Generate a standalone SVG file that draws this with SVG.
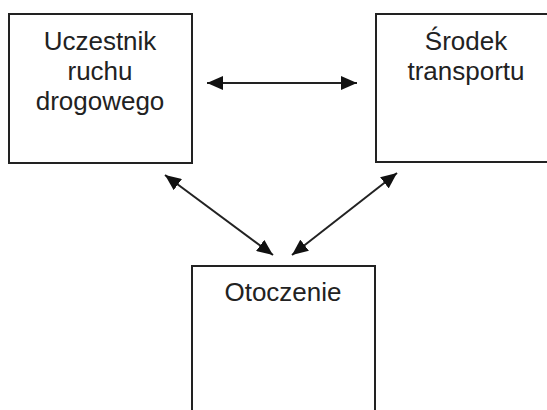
<svg xmlns="http://www.w3.org/2000/svg" width="547" height="410" viewBox="0 0 547 410">
<style>
.box{fill:#fff;stroke:#222;stroke-width:2}
.t{font-family:"Liberation Sans",Arial,sans-serif;font-size:26px;fill:#222;text-anchor:middle}
.c{stroke:#222;stroke-width:2;fill:none;marker-start:url(#ah);marker-end:url(#ah)}
</style>
<defs>
<marker id="ah" viewBox="0 0 10 10" refX="10" refY="5" markerWidth="16" markerHeight="14" markerUnits="userSpaceOnUse" orient="auto-start-reverse" preserveAspectRatio="none">
<path d="M0,0 L10,5 L0,10 z" fill="#111"/>
</marker>
</defs>
<rect width="547" height="410" fill="#fff"/>
<g id="uczestnik">
<rect class="box" x="9" y="14" width="183" height="149"/>
<text class="t" x="100" y="50">Uczestnik</text>
<text class="t" x="100" y="80">ruchu</text>
<text class="t" x="100" y="110">drogowego</text>
</g>
<g id="srodek">
<rect class="box" x="376" y="14" width="180" height="148"/>
<text class="t" x="466" y="50">Środek</text>
<text class="t" x="466" y="80">transportu</text>
</g>
<g id="otoczenie">
<rect class="box" x="192" y="266" width="183" height="160"/>
<text class="t" x="283" y="301">Otoczenie</text>
</g>
<g id="connectors">
<line class="c" x1="207" y1="83" x2="357" y2="83"/>
<line class="c" x1="165" y1="175" x2="273" y2="255"/>
<line class="c" x1="397" y1="173" x2="292" y2="255"/>
</g>
</svg>
